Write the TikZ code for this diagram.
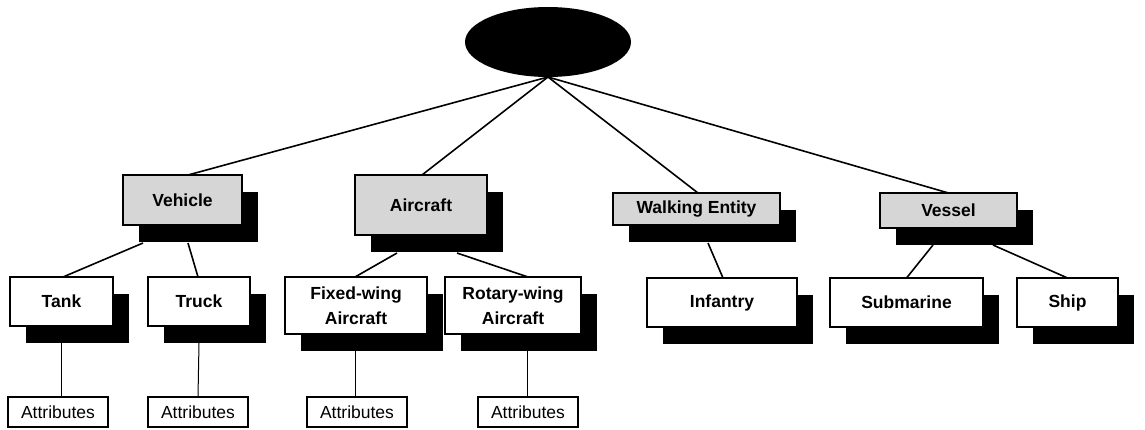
\documentclass[tikz,border=0pt]{standalone}
\usepackage{fontspec}
\setmainfont{Liberation Sans}
\usetikzlibrary{shadows,calc,shapes.geometric}

\begin{document}
\begin{tikzpicture}[x=1pt,y=-1pt,
  every node/.style={inner sep=0pt, outer sep=0pt},
  boxshadow/.style={drop shadow={shadow xshift=16pt, shadow yshift=-17pt, opacity=1, fill=black}},
  catbox/.style={draw, line width=1.4pt, fill=black!16, boxshadow,
    font=\bfseries\fontsize{17.5}{24}\selectfont, align=center},
  kindbox/.style={draw, line width=1.4pt, fill=white, boxshadow,
    font=\bfseries\fontsize{17.5}{25}\selectfont, align=center},
  attrbox/.style={draw, line width=1.2pt, fill=white, minimum width=100pt,
    minimum height=30pt, font=\fontsize{17.5}{20}\selectfont},
  link/.style={line width=1.6pt},
  attrlink/.style={line width=1pt}]

\useasboundingbox (0,0) rectangle (1145,429);

% root
\node[ellipse, fill=black, minimum width=166pt, minimum height=70pt] (root) at (548,42) {};

% categories
\node[catbox, minimum width=119pt, minimum height=50pt] (veh) at (182.5,200) {Vehicle};
\node[catbox, minimum width=132pt, minimum height=60pt] (air) at (421,205) {Aircraft};
\node[catbox, minimum width=167pt, minimum height=32pt] (walk) at (696.5,209) {Walking Entity};
\node[catbox, minimum width=137pt, minimum height=35pt] (ves) at (948.5,210.5) {Vessel};

% entity kinds
\node[kindbox, minimum width=103pt, minimum height=49pt] (tank) at (61.5,301.5) {Tank};
\node[kindbox, minimum width=102pt, minimum height=49pt] (truck) at (199,301.5) {Truck};
\node[kindbox, minimum width=142pt, minimum height=57pt] (fixed) at (356,305.5) {Fixed-wing\\Aircraft};
\node[kindbox, minimum width=136pt, minimum height=57pt] (rotary) at (513,305.5) {Rotary-wing\\Aircraft};
\node[kindbox, minimum width=150pt, minimum height=49pt] (inf) at (722,302.5) {Infantry};
\node[kindbox, minimum width=153pt, minimum height=49pt] (sub) at (906.5,302.5) {Submarine};
\node[kindbox, minimum width=101pt, minimum height=49pt] (ship) at (1067.5,302.5) {Ship};

% attribute boxes
\node[attrbox] (a1) at (58,412) {Attributes};
\node[attrbox] (a2) at (198,412) {Attributes};
\node[attrbox] (a3) at (357,412) {Attributes};
\node[attrbox] (a4) at (528,412) {Attributes};

% root to categories
\draw[link] (root.south) -- ($(veh.north)+(5.5,0)$);
\draw[link] (root.south) -- ($(air.north)+(1,0)$);
\draw[link] (root.south) -- ($(walk.north)+(1.5,0)$);
\draw[link] (root.south) -- (ves.north);

% categories to kinds, leaving from the shadow's lower edge
\draw[link] ($(veh.south)+(-39.5,18)$) -- ($(tank.north)+(1.5,0)$);
\draw[link] ($(veh.south)+(5.5,18)$) -- ($(truck.north)+(-1,0)$);
\draw[link] ($(air.south)+(-24,18)$) -- ($(fixed.north)+(-1,0)$);
\draw[link] ($(air.south)+(36,18)$) -- ($(rotary.north)+(15,0)$);
\draw[link] ($(walk.south)+(11.5,18)$) -- ($(inf.north)+(1,0)$);
\draw[link] ($(ves.south)+(-15.5,17)$) -- (sub.north);
\draw[link] ($(ves.south)+(44.5,17)$) -- (ship.north);

% kinds to attributes
\draw[attrlink] ($(tank.south)+(0,17)$) -- ($(a1.north)+(3.5,0)$);
\draw[attrlink] ($(truck.south)+(0,17)$) -- (a2.north);
\draw[attrlink] ($(fixed.south)+(-1,10)$) -- ($(a3.north)+(-2,0)$);
\draw[attrlink] ($(rotary.south)+(14,10)$) -- ($(a4.north)+(-1,0)$);
\end{tikzpicture}
\end{document}
